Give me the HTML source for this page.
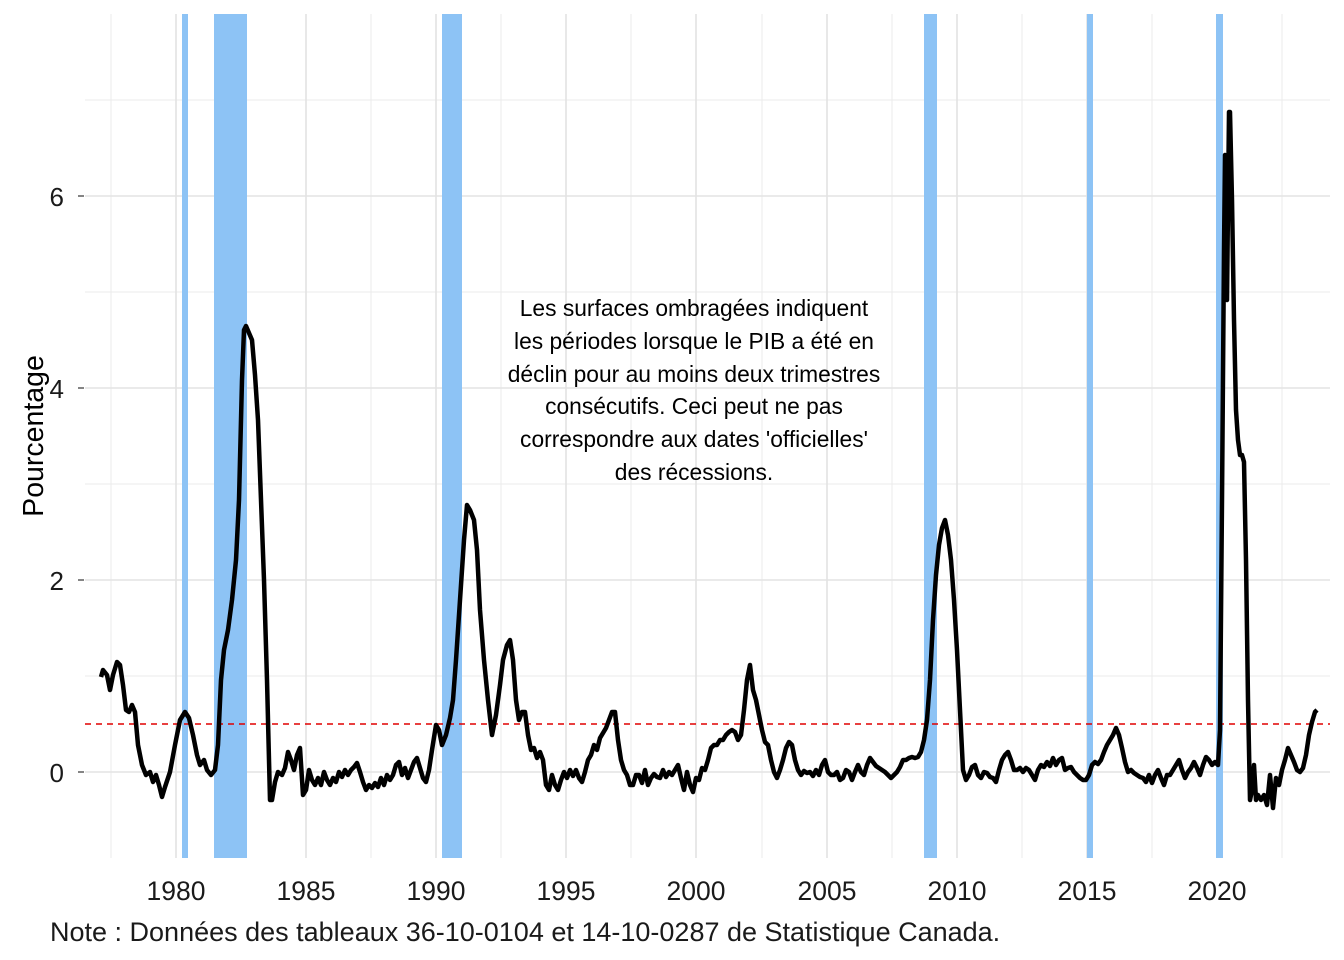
<!DOCTYPE html>
<html><head><meta charset="utf-8"><style>
body{margin:0;background:#fff}
svg{display:block;font-family:"Liberation Sans",Arial,sans-serif}
</style></head><body>
<svg width="1344" height="960" viewBox="0 0 1344 960">
<g stroke="#ebebeb" stroke-width="1">
<line x1="85" x2="1330" y1="676" y2="676"/><line x1="85" x2="1330" y1="484" y2="484"/><line x1="85" x2="1330" y1="292" y2="292"/><line x1="85" x2="1330" y1="100" y2="100"/>
<line y1="14" y2="858" x1="111" x2="111"/><line y1="14" y2="858" x1="241" x2="241"/><line y1="14" y2="858" x1="371" x2="371"/><line y1="14" y2="858" x1="501" x2="501"/><line y1="14" y2="858" x1="631" x2="631"/><line y1="14" y2="858" x1="762" x2="762"/><line y1="14" y2="858" x1="892" x2="892"/><line y1="14" y2="858" x1="1022" x2="1022"/><line y1="14" y2="858" x1="1152" x2="1152"/><line y1="14" y2="858" x1="1282" x2="1282"/>
</g>
<g stroke="#e3e3e3" stroke-width="1.6">
<line x1="85" x2="1330" y1="772" y2="772"/><line x1="85" x2="1330" y1="580" y2="580"/><line x1="85" x2="1330" y1="388" y2="388"/><line x1="85" x2="1330" y1="196" y2="196"/>
<line y1="14" y2="858" x1="176" x2="176"/><line y1="14" y2="858" x1="306" x2="306"/><line y1="14" y2="858" x1="436" x2="436"/><line y1="14" y2="858" x1="566" x2="566"/><line y1="14" y2="858" x1="696" x2="696"/><line y1="14" y2="858" x1="827" x2="827"/><line y1="14" y2="858" x1="957" x2="957"/><line y1="14" y2="858" x1="1087" x2="1087"/><line y1="14" y2="858" x1="1217" x2="1217"/>
</g>
<g fill="#8dc3f5">
<rect x="182" y="14" width="6" height="844"/><rect x="214" y="14" width="33" height="844"/><rect x="442" y="14" width="20" height="844"/><rect x="924" y="14" width="13" height="844"/><rect x="1087" y="14" width="6" height="844"/><rect x="1216" y="14" width="7" height="844"/>
</g>
<line x1="85" x2="1330" y1="724" y2="724" stroke="#e00000" stroke-width="1.6" stroke-dasharray="6,5"/>
<polyline fill="none" stroke="#000" stroke-width="4.5" stroke-linejoin="round" points="101,677 103,670 107,675 110,690 113,675 117,662 120,665 123,685 126,710 129,712 132,705 135,712 138,745 142,765 146,775 150,772 153,782 156,775 159,785 162,797 165,787 170,772 175,745 180,720 185,712 189,718 193,735 197,755 200,765 204,760 207,770 211,775 215,770 218,745 221,680 224,650 228,630 232,600 236,560 239,500 242,380 244,330 246,326 249,333 252,340 255,375 258,420 261,500 264,580 267,680 270,800 272,800 275,782 278,772 282,775 285,768 288,752 291,760 294,770 297,755 300,748 303,795 306,790 309,770 312,780 315,785 318,778 321,785 324,772 327,780 330,785 333,778 336,782 339,772 342,777 345,770 348,775 351,770 354,767 357,763 360,772 363,782 366,790 369,785 372,788 375,783 378,787 381,778 384,785 387,775 390,780 393,775 396,765 399,762 402,775 405,768 408,778 411,770 414,762 417,758 420,768 423,778 426,782 429,770 432,750 436,725 439,730 442,745 446,735 450,718 453,700 456,660 460,600 464,540 467,505 470,510 474,520 477,550 480,610 484,660 488,700 492,735 496,715 500,685 503,660 507,645 510,640 513,660 516,700 519,720 522,712 525,712 528,735 531,750 534,748 537,758 540,752 543,760 546,785 549,790 552,775 555,785 558,790 561,780 564,772 567,778 570,770 573,776 576,770 579,778 582,782 585,772 588,760 591,755 594,745 597,750 600,738 603,733 606,728 609,720 612,712 615,712 618,740 621,760 624,770 627,775 630,785 633,785 636,775 639,775 642,783 645,770 648,785 651,778 654,774 657,777 660,778 663,770 666,777 669,772 672,775 675,770 678,765 681,778 684,790 687,772 690,785 693,792 696,778 699,780 702,768 705,770 708,760 711,748 714,745 717,745 720,740 723,740 726,735 729,732 732,730 735,732 738,740 741,735 744,710 747,680 750,665 753,690 756,700 759,715 762,730 765,742 768,745 771,760 774,772 777,778 780,770 783,760 786,748 789,742 792,745 795,760 798,770 801,775 804,771 807,773 810,772 813,776 816,770 819,775 822,765 825,760 828,772 831,775 834,775 837,772 840,780 843,778 846,770 849,772 852,780 855,772 858,765 861,772 864,775 867,765 870,758 873,762 876,766 879,768 882,770 885,772 888,775 891,778 894,775 897,772 900,767 903,760 906,760 909,758 912,757 915,758 918,757 921,752 924,740 927,720 930,680 933,620 936,575 939,545 942,528 945,520 948,535 951,560 954,600 957,650 960,710 963,770 966,780 969,775 972,767 975,765 978,775 981,778 984,772 987,773 990,777 993,778 996,782 999,770 1002,760 1005,755 1008,752 1011,760 1014,770 1017,770 1020,768 1023,772 1026,768 1029,770 1032,775 1035,780 1038,770 1041,765 1044,767 1047,762 1050,766 1053,758 1056,765 1059,760 1062,758 1065,770 1068,768 1071,767 1074,772 1077,775 1080,778 1083,780 1086,780 1089,775 1092,765 1095,762 1098,764 1101,760 1104,752 1107,745 1110,740 1113,735 1116,728 1119,735 1122,748 1125,762 1128,772 1131,770 1134,773 1137,775 1140,777 1143,778 1146,782 1149,775 1152,783 1155,775 1158,770 1161,778 1164,785 1167,775 1170,775 1173,770 1176,765 1179,760 1182,770 1185,778 1188,772 1191,768 1194,762 1197,768 1200,775 1203,765 1206,757 1209,760 1212,765 1215,762 1218,765 1220,730 1222,500 1224,250 1225,155 1227,300 1229,112 1230,112 1232,200 1234,320 1236,410 1238,440 1240,455 1242,455 1244,462 1246,560 1248,700 1250,800 1252,790 1254,765 1256,800 1258,795 1261,800 1264,795 1267,805 1270,775 1273,808 1276,778 1279,785 1282,770 1285,760 1288,748 1291,755 1294,762 1297,770 1300,772 1303,768 1306,755 1309,735 1312,722 1315,712 1317,710"/>
<g stroke="#333" stroke-width="1.2">
<line x1="78" x2="84" y1="772" y2="772"/><line x1="78" x2="84" y1="580" y2="580"/><line x1="78" x2="84" y1="388" y2="388"/><line x1="78" x2="84" y1="196" y2="196"/>
</g>
<g font-size="26" fill="#1a1a1a" text-anchor="end">
<text x="64" y="782">0</text><text x="64" y="590">2</text><text x="64" y="398">4</text><text x="64" y="206">6</text>
</g>
<g font-size="26.5" fill="#1a1a1a" text-anchor="middle">
<text x="176" y="900">1980</text><text x="306" y="900">1985</text><text x="436" y="900">1990</text><text x="566" y="900">1995</text><text x="696" y="900">2000</text><text x="827" y="900">2005</text><text x="957" y="900">2010</text><text x="1087" y="900">2015</text><text x="1217" y="900">2020</text>
</g>
<text transform="translate(43,436) rotate(-90)" font-size="28.5" text-anchor="middle" fill="#000">Pourcentage</text>
<g font-size="22.8" text-anchor="middle" fill="#000">
<text x="694" y="316">Les surfaces ombragées indiquent</text>
<text x="694" y="349">les périodes lorsque le PIB a été en</text>
<text x="694" y="382">déclin pour au moins deux trimestres</text>
<text x="694" y="414">consécutifs. Ceci peut ne pas</text>
<text x="694" y="447">correspondre aux dates 'officielles'</text>
<text x="694" y="480">des récessions.</text>
</g>
<text x="50" y="941" font-size="27" fill="#1a1a1a">Note : Données des tableaux 36-10-0104 et 14-10-0287 de Statistique Canada.</text>
</svg>
</body></html>
